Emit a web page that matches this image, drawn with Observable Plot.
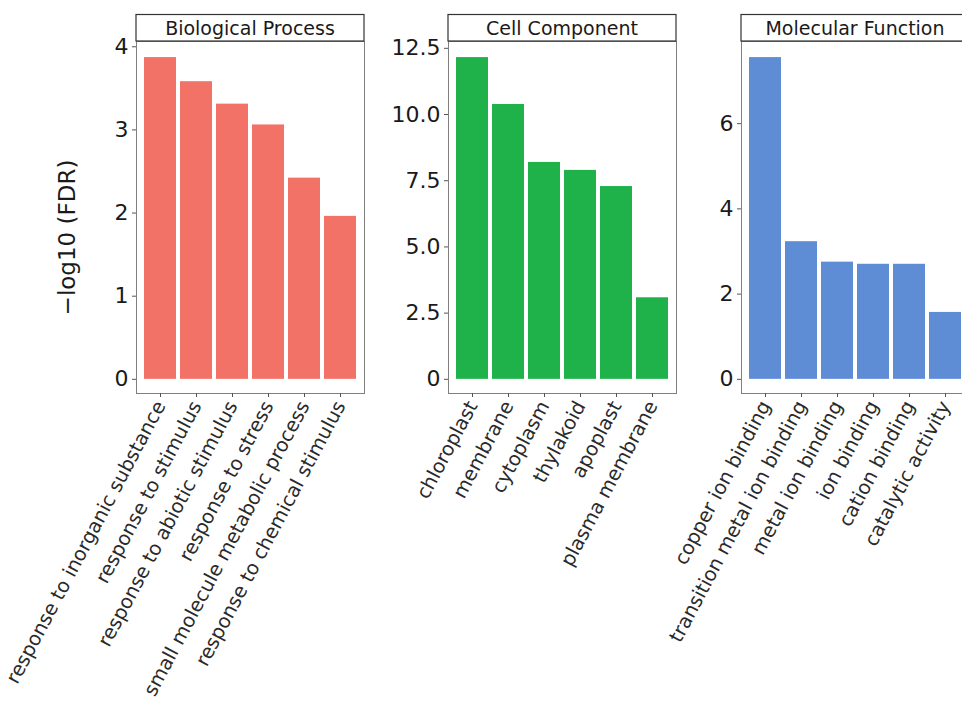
<!DOCTYPE html>
<html><head><meta charset="utf-8">
<script src="https://cdn.jsdelivr.net/npm/d3@7"></script>
<script src="https://cdn.jsdelivr.net/npm/@observablehq/plot@0.6"></script>
<style>
html,body{margin:0;padding:0;background:#fff;}
#chart{position:relative;width:962px;height:713px;overflow:hidden;background:#fff;}
#chart svg{position:absolute;top:0;left:0;max-width:none !important;}
</style></head><body><div id="chart"></div>
<script>
const facetTitles = ["Biological Process", "Cell Component", "Molecular Function"];
const facetColors = ["#f27268", "#1fb24a", "#5e8dd6"];

const bpTerms = ["response to inorganic substance", "response to stimulus", "response to abiotic stimulus", "response to stress", "small molecule metabolic process", "response to chemical stimulus"];
const bpValues = [3.87, 3.58, 3.31, 3.06, 2.42, 1.96];
const bpTicks = [0, 1, 2, 3, 4];
const bpTickLabels = ["0", "1", "2", "3", "4"];

const ccTerms = ["chloroplast", "membrane", "cytoplasm", "thylakoid", "apoplast", "plasma membrane"];
const ccValues = [12.15, 10.38, 8.19, 7.89, 7.28, 3.08];
const ccTicks = [0, 2.5, 5, 7.5, 10, 12.5];
const ccTickLabels = ["0", "2.5", "5.0", "7.5", "10.0", "12.5"];

const mfTerms = ["copper ion binding", "transition metal ion binding", "metal ion binding", "ion binding", "cation binding", "catalytic activity"];
const mfValues = [7.55, 3.23, 2.75, 2.70, 2.70, 1.57];
const mfTicks = [0, 2, 4, 6];
const mfTickLabels = ["0", "2", "4", "6"];

const yTitle = "\u2212log10 (FDR)";
const FONT = "'DejaVu Sans', 'Liberation Sans', Arial, sans-serif";

function panel(title, terms, values, ticks, tickLabels, color, left, right, width, showTitle) {
  const data = terms.map((t, i) => ({term: t, value: values[i]}));
  const M = d3.max(values);
  const marks = [
    Plot.barY(data, {x: "term", y: "value", fill: color}),
    Plot.frame({stroke: "#808080", strokeWidth: 1}),
    Plot.axisY({ticks: ticks, tickFormat: d => tickLabels[ticks.indexOf(d)], tickSize: 4, tickPadding: 4, fontSize: 22, label: null, stroke: "#555", fill: "#1a1a1a"}),
    Plot.axisX({tickRotate: -62, tickSize: 4, tickPadding: 5, fontSize: 19.5, textAnchor: "end", label: null, stroke: "#555", fill: "#2a2a2a"})
  ];
  if (showTitle) {
    marks.push(Plot.text([yTitle], {frameAnchor: "left", textAnchor: "middle", rotate: -90, dx: -69, dy: 20, fontSize: 23, fill: "#1a1a1a"}));
  }
  const svg = Plot.plot({
    width: width, height: 713,
    marginLeft: left, marginRight: width - right, marginTop: 41, marginBottom: 713 - 393,
    style: {background: "transparent", overflow: "visible", fontFamily: FONT, maxWidth: "none"},
    x: {type: "band", domain: terms, paddingInner: 0.1, paddingOuter: 0.15},
    y: {domain: [-0.044 * M, 1.05 * M]},
    marks: marks
  });
  svg.style.maxWidth = "none";
  const s = d3.select(svg);
  s.append("rect").attr("x", left).attr("y", 14.5).attr("width", right - left).attr("height", 26.5)
    .attr("fill", "white").attr("stroke", "#333").attr("stroke-width", 1.2);
  s.append("text").attr("x", (left + right) / 2).attr("y", 28).attr("text-anchor", "middle")
    .attr("dominant-baseline", "central").attr("font-size", 19).attr("fill", "#1a1a1a")
    .attr("font-family", FONT).text(title);
  document.getElementById("chart").appendChild(svg);
}

panel(facetTitles[0], bpTerms, bpValues, bpTicks, bpTickLabels, facetColors[0], 136, 364, 962, true);
panel(facetTitles[1], ccTerms, ccValues, ccTicks, ccTickLabels, facetColors[1], 448, 676, 962, false);
panel(facetTitles[2], mfTerms, mfValues, mfTicks, mfTickLabels, facetColors[2], 741, 969, 980, false);
</script></body></html>
